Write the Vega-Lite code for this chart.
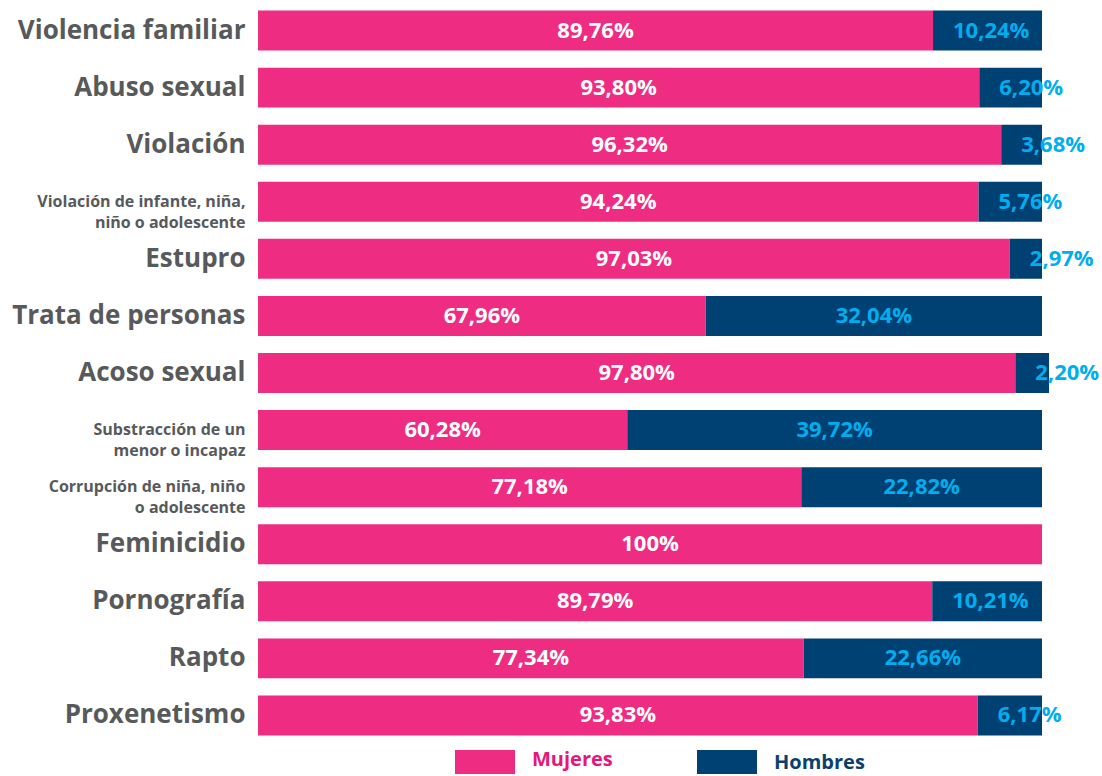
{
  "$schema": "https://vega.github.io/schema/vega-lite/v6.json",
  "width": 784,
  "height": 742,
  "autosize": {"type": "none"},
  "padding": {"left": 258, "top": 2, "right": 60, "bottom": 32},
  "background": "white",
  "config": {"view": {"stroke": null}, "font": "Open Sans"},
  "data": {"values": [
    {"categoria": "Violencia familiar", "sexo": "Mujeres", "porcentaje": 89.76, "ancho": 86.1},
    {"categoria": "Violencia familiar", "sexo": "Hombres", "porcentaje": 10.24, "ancho": 13.9},
    {"categoria": "Abuso sexual", "sexo": "Mujeres", "porcentaje": 93.80, "ancho": 92.0},
    {"categoria": "Abuso sexual", "sexo": "Hombres", "porcentaje": 6.20, "ancho": 8.0},
    {"categoria": "Violación", "sexo": "Mujeres", "porcentaje": 96.32, "ancho": 94.8},
    {"categoria": "Violación", "sexo": "Hombres", "porcentaje": 3.68, "ancho": 5.2},
    {"categoria": "Violación de infante, niña, niño o adolescente", "sexo": "Mujeres", "porcentaje": 94.24, "ancho": 91.9},
    {"categoria": "Violación de infante, niña, niño o adolescente", "sexo": "Hombres", "porcentaje": 5.76, "ancho": 8.1},
    {"categoria": "Estupro", "sexo": "Mujeres", "porcentaje": 97.03, "ancho": 95.9},
    {"categoria": "Estupro", "sexo": "Hombres", "porcentaje": 2.97, "ancho": 4.1},
    {"categoria": "Trata de personas", "sexo": "Mujeres", "porcentaje": 67.96, "ancho": 57.1},
    {"categoria": "Trata de personas", "sexo": "Hombres", "porcentaje": 32.04, "ancho": 42.9},
    {"categoria": "Acoso sexual", "sexo": "Mujeres", "porcentaje": 97.80, "ancho": 96.6},
    {"categoria": "Acoso sexual", "sexo": "Hombres", "porcentaje": 2.20, "ancho": 4.3},
    {"categoria": "Substracción de un menor o incapaz", "sexo": "Mujeres", "porcentaje": 60.28, "ancho": 47.1},
    {"categoria": "Substracción de un menor o incapaz", "sexo": "Hombres", "porcentaje": 39.72, "ancho": 52.9},
    {"categoria": "Corrupción de niña, niño o adolescente", "sexo": "Mujeres", "porcentaje": 77.18, "ancho": 69.3},
    {"categoria": "Corrupción de niña, niño o adolescente", "sexo": "Hombres", "porcentaje": 22.82, "ancho": 30.7},
    {"categoria": "Feminicidio", "sexo": "Mujeres", "porcentaje": 100, "ancho": 100},
    {"categoria": "Feminicidio", "sexo": "Hombres", "porcentaje": 0, "ancho": 0},
    {"categoria": "Pornografía", "sexo": "Mujeres", "porcentaje": 89.79, "ancho": 86.0},
    {"categoria": "Pornografía", "sexo": "Hombres", "porcentaje": 10.21, "ancho": 14.0},
    {"categoria": "Rapto", "sexo": "Mujeres", "porcentaje": 77.34, "ancho": 69.6},
    {"categoria": "Rapto", "sexo": "Hombres", "porcentaje": 22.66, "ancho": 30.4},
    {"categoria": "Proxenetismo", "sexo": "Mujeres", "porcentaje": 93.83, "ancho": 91.8},
    {"categoria": "Proxenetismo", "sexo": "Hombres", "porcentaje": 6.17, "ancho": 8.2}
  ]},
  "transform": [
    {"calculate": "datum.sexo == 'Mujeres' ? 0 : 1", "as": "orden"},
    {"stack": "ancho", "groupby": ["categoria"], "sort": [{"field": "orden"}], "as": ["x0", "x1"]},
    {"calculate": "(datum.x0 + datum.x1) / 2", "as": "centro"},
    {"calculate": "datum.porcentaje == 100 ? '100%' : replace(format(datum.porcentaje, '.2f'), '.', ',') + '%'", "as": "etiqueta"}
  ],
  "encoding": {
    "y": {
      "field": "categoria",
      "type": "nominal",
      "sort": ["Violencia familiar", "Abuso sexual", "Violación", "Violación de infante, niña, niño o adolescente", "Estupro", "Trata de personas", "Acoso sexual", "Substracción de un menor o incapaz", "Corrupción de niña, niño o adolescente", "Feminicidio", "Pornografía", "Rapto", "Proxenetismo"],
      "scale": {"paddingInner": 0.3, "paddingOuter": 0.15},
      "axis": {
        "title": null,
        "domain": false,
        "ticks": false,
        "labelPadding": 13,
        "labelColor": "#58595B",
        "labelFont": "Open Sans",
        "labelFontWeight": "bold",
        "labelLimit": 300,
        "labelLineHeight": 21,
        "labelBaseline": "middle",
        "labelFontSize": {"condition": {"test": "indexof(['Violación de infante, niña, niño o adolescente', 'Substracción de un menor o incapaz', 'Corrupción de niña, niño o adolescente'], datum.value) >= 0", "value": 16}, "value": 26},
        "labelExpr": "datum.value == 'Violación de infante, niña, niño o adolescente' ? ['Violación de infante, niña,', 'niño o adolescente'] : datum.value == 'Substracción de un menor o incapaz' ? ['Substracción de un', 'menor o incapaz'] : datum.value == 'Corrupción de niña, niño o adolescente' ? ['Corrupción de niña, niño', 'o adolescente'] : datum.value"
      }
    }
  },
  "layer": [
    {
      "mark": {"type": "bar"},
      "encoding": {
        "x": {"field": "x0", "type": "quantitative", "scale": {"domain": [0, 100], "nice": false}, "axis": null},
        "x2": {"field": "x1"},
        "color": {
          "field": "sexo",
          "type": "nominal",
          "scale": {"domain": ["Mujeres", "Hombres"], "range": ["#EE2C82", "#004173"]},
          "legend": {
            "title": null,
            "orient": "none",
            "legendX": 197,
            "legendY": 730,
            "direction": "horizontal",
            "symbolType": "M-1,-0.4H1V0.4H-1Z",
            "symbolSize": 3600,
            "symbolStrokeWidth": 0,
            "labelFont": "Open Sans",
            "labelFontWeight": "bold",
            "labelFontSize": 20,
            "labelOffset": 17,
            "columnPadding": 84,
            "encode": {
              "labels": {"update": {
                "fill": {"signal": "datum.value == 'Mujeres' ? '#E5177B' : '#0A3F6E'"},
                "dy": {"signal": "datum.value == 'Mujeres' ? -2 : 1"}
              }}
            }
          }
        }
      }
    },
    {
      "transform": [{"filter": "datum.sexo == 'Mujeres'"}],
      "mark": {"type": "text", "color": "white", "fontSize": 22, "fontWeight": "bold", "align": "center", "baseline": "middle"},
      "encoding": {
        "x": {"field": "centro", "type": "quantitative"},
        "text": {"field": "etiqueta"}
      }
    },
    {
      "transform": [{"filter": "datum.sexo == 'Hombres' && datum.porcentaje >= 11"}],
      "mark": {"type": "text", "color": "#00AEEF", "fontSize": 22, "fontWeight": "bold", "align": "center", "baseline": "middle"},
      "encoding": {
        "x": {"field": "centro", "type": "quantitative"},
        "text": {"field": "etiqueta"}
      }
    },
    {
      "transform": [{"filter": "datum.sexo == 'Hombres' && datum.porcentaje > 0 && datum.porcentaje < 11"}],
      "mark": {"type": "text", "color": "#00AEEF", "fontSize": 22, "fontWeight": "bold", "align": "left", "baseline": "middle", "dx": 20},
      "encoding": {
        "x": {"field": "x0", "type": "quantitative"},
        "text": {"field": "etiqueta"}
      }
    }
  ]
}
